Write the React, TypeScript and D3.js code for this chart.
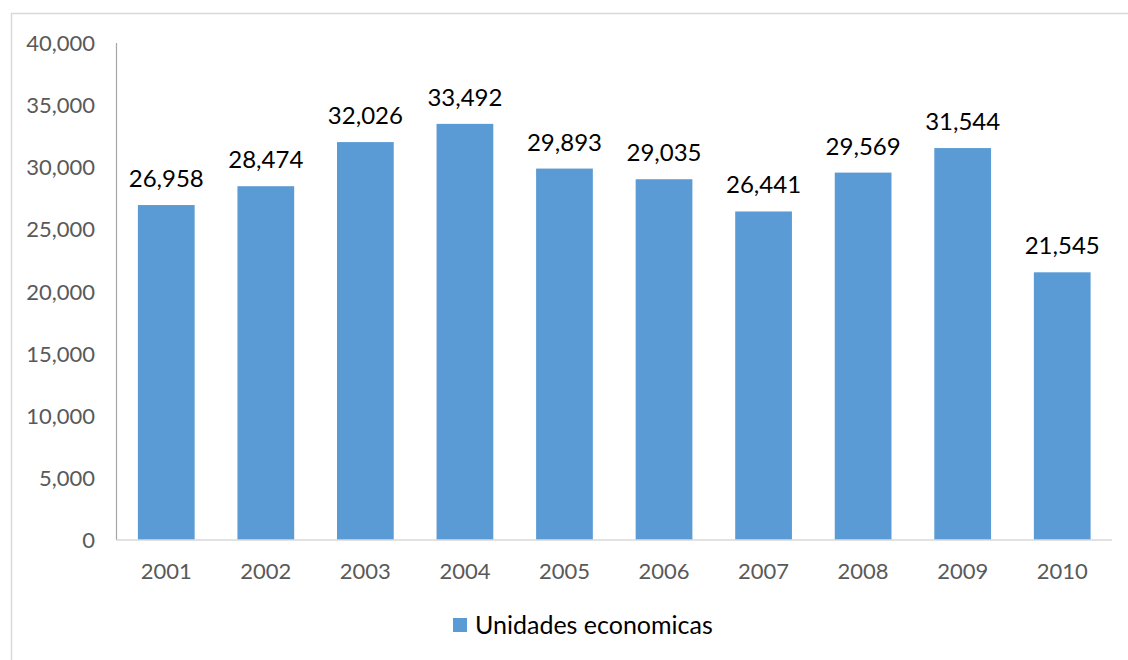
import React from "react";
import * as d3 from "d3";

const years = ["2001","2002","2003","2004","2005","2006","2007","2008","2009","2010"];
const values = [26958, 28474, 32026, 33492, 29893, 29035, 26441, 29569, 31544, 21545];
const yTicks = [0, 5000, 10000, 15000, 20000, 25000, 30000, 35000, 40000];
const seriesName = "Unidades economicas";

export default function App() {
  const W = 1128, H = 660;
  const left = 116.5, right = 1112, top = 43, bottom = 540;
  const x = d3.scaleBand<string>().domain(years).range([left, right]).paddingInner(0.43).paddingOuter(0.215);
  const y = d3.scaleLinear().domain([0, 40000]).range([bottom, top]);
  const fmt = d3.format(",");
  const font = "Lato, 'Open Sans', sans-serif";
  return (
    <svg width={W} height={H} style={{ position: "absolute", left: 0, top: 0 }} fontFamily={font}>
      <rect x={0} y={0} width={W} height={H} fill="#fff" />
      <rect x={11.5} y={13.5} width={W + 10} height={H + 10} fill="none" stroke="#d9d9d9" strokeWidth={1.5} />
      {yTicks.map(t => (
        <text key={t} x={95} y={y(t) + 8} textAnchor="end" fontSize={22} fill="#595959">{fmt(t)}</text>
      ))}
      {years.map((yr, i) => (
        <g key={yr}>
          <rect x={x(yr)} y={y(values[i])} width={x.bandwidth()} height={bottom - y(values[i])} fill="#5b9bd5" />
          <text x={(x(yr) as number) + x.bandwidth() / 2} y={y(values[i]) - 18} textAnchor="middle" fontSize={24} fill="#000">{fmt(values[i])}</text>
          <text x={(x(yr) as number) + x.bandwidth() / 2} y={579} textAnchor="middle" fontSize={22} fill="#595959">{yr}</text>
        </g>
      ))}
      <line x1={left} x2={left} y1={top} y2={bottom} stroke="#a6a6a6" strokeWidth={1.2} />
      <line x1={left} x2={right} y1={bottom} y2={bottom} stroke="#d9d9d9" strokeWidth={1.5} />
      <rect x={453} y={618} width={14} height={14} fill="#5b9bd5" />
      <text x={475} y={634} fontSize={25} fill="#000">{seriesName}</text>
    </svg>
  );
}
